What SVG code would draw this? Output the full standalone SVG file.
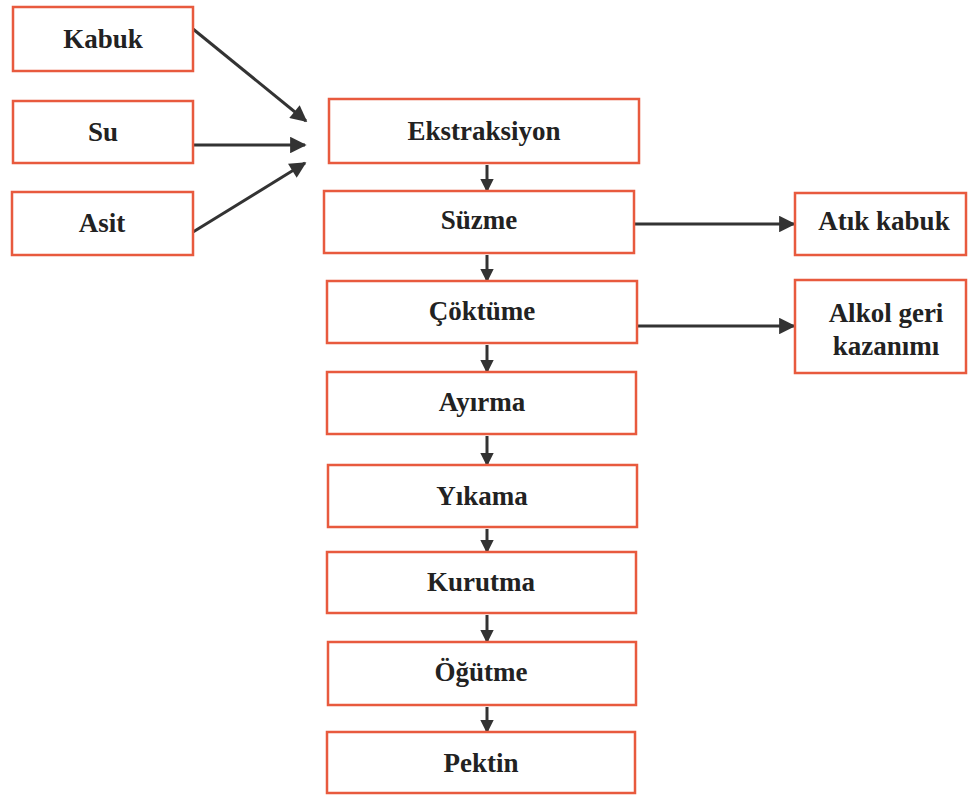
<svg xmlns="http://www.w3.org/2000/svg" width="968" height="797" viewBox="0 0 968 797">
<defs>
<style>
.box{fill:#fff;stroke:#e85a3e;stroke-width:2.5}
.t{font-weight:bold;font-size:27px;fill:#222;text-anchor:middle}
.c{stroke:#333;stroke-width:3;fill:none}
.cs{stroke:#333;stroke-width:3;fill:none}
</style>
<marker id="ah" viewBox="0 0 10 10" refX="9" refY="5" markerWidth="6.5" markerHeight="5.5" markerUnits="strokeWidth" orient="auto">
<path d="M0,0 L10,5 L0,10 z" fill="#333"/>
</marker>
<marker id="as" viewBox="0 0 10 10" refX="9" refY="5" markerWidth="4.5" markerHeight="5" markerUnits="strokeWidth" orient="auto">
<path d="M0,0 L10,5 L0,10 z" fill="#333"/>
</marker>
</defs>
<rect width="968" height="797" fill="#fff"/>
<g id="connectors">
<line class="c" x1="193" y1="29" x2="306" y2="121" marker-end="url(#ah)"/>
<line class="c" x1="193" y1="145" x2="305" y2="145" marker-end="url(#ah)"/>
<line class="c" x1="193" y1="232" x2="305" y2="163" marker-end="url(#ah)"/>
<line class="c" x1="634" y1="224" x2="794" y2="224" marker-end="url(#ah)"/>
<line class="c" x1="637" y1="326" x2="794" y2="326" marker-end="url(#ah)"/>
<line class="cs" x1="487" y1="165" x2="487" y2="191" marker-end="url(#as)"/>
<line class="cs" x1="487" y1="255" x2="487" y2="281" marker-end="url(#as)"/>
<line class="cs" x1="487" y1="345" x2="487" y2="372" marker-end="url(#as)"/>
<line class="cs" x1="487" y1="436" x2="487" y2="465" marker-end="url(#as)"/>
<line class="cs" x1="487" y1="529" x2="487" y2="552" marker-end="url(#as)"/>
<line class="cs" x1="487" y1="615" x2="487" y2="642" marker-end="url(#as)"/>
<line class="cs" x1="487" y1="707" x2="487" y2="732" marker-end="url(#as)"/>
</g>
<g font-family="Liberation Serif, Times New Roman, Times, serif">
<g id="kabuk"><rect class="box" x="13" y="7" width="180" height="64"/><text class="t" x="103" y="48">Kabuk</text></g>
<g id="su"><rect class="box" x="13" y="101" width="180" height="62"/><text class="t" x="103" y="141">Su</text></g>
<g id="asit"><rect class="box" x="12" y="192" width="181" height="63"/><text class="t" x="102" y="232">Asit</text></g>
<g id="ekstraksiyon"><rect class="box" x="329" y="99" width="310" height="64"/><text class="t" x="484" y="140">Ekstraksiyon</text></g>
<g id="suzme"><rect class="box" x="324" y="191" width="310" height="62"/><text class="t" x="479" y="229">Süzme</text></g>
<g id="coktume"><rect class="box" x="327" y="281" width="310" height="62"/><text class="t" x="482" y="320">Çöktüme</text></g>
<g id="ayirma"><rect class="box" x="327" y="372" width="309" height="62"/><text class="t" x="482" y="411">Ayırma</text></g>
<g id="yikama"><rect class="box" x="328" y="465" width="309" height="62"/><text class="t" x="482" y="505">Yıkama</text></g>
<g id="kurutma"><rect class="box" x="327" y="552" width="309" height="61"/><text class="t" x="481" y="591">Kurutma</text></g>
<g id="ogutme"><rect class="box" x="328" y="642" width="308" height="63"/><text class="t" x="481" y="681">Öğütme</text></g>
<g id="pektin"><rect class="box" x="327" y="732" width="308" height="61"/><text class="t" x="481" y="772">Pektin</text></g>
<g id="atik-kabuk"><rect class="box" x="795" y="193" width="171" height="62"/><text class="t" x="884" y="230">Atık kabuk</text></g>
<g id="alkol"><rect class="box" x="795" y="280" width="171" height="93"/><text class="t" x="886" y="322">Alkol geri</text><text class="t" x="886" y="355">kazanımı</text></g>
</g>
</svg>
